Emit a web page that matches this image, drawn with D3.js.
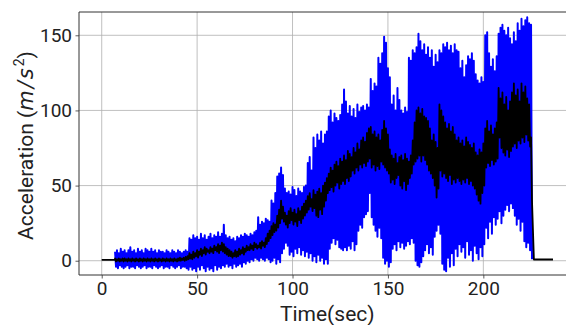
<!DOCTYPE html>
<html>
<head>
<meta charset="utf-8">
<script src="https://cdn.jsdelivr.net/npm/d3@7"></script>
<style>
  body { margin: 0; background: #fff; }
  svg { display: block; }
  .tick text { font-family: Roboto, "Noto Sans", sans-serif; }
</style>
</head>
<body>
<div id="chart"></div>
<script>
// one sample per second, starting at t = 7 s
var sampleTimes = d3.range(7, 226);

var blueHi = [
  6,7,5,8,6,7,5,7,9,6,
  7,5,8,6,7,5,8,7,6,8,
  6,7,5,7,6,6,5,7,6,5,
  7,6,5,7,6,5,6,7,6,15,
  14,17,15,16,14,18,15,17,14,16,
  18,15,17,16,19,16,18,24,17,15,
  16,14,15,13,16,15,17,16,18,17,
  16,18,17,19,20,29,24,26,25,28,
  27,26,40,38,45,56,58,62,57,48,
  45,46,44,49,47,43,48,46,45,49,
  50,65,69,60,82,75,84,80,86,78,
  84,86,96,100,92,98,95,93,97,104,
  114,106,98,103,96,101,95,104,99,102,
  103,100,104,102,121,113,118,116,135,131,
  138,149,145,128,122,104,110,100,115,107,
  100,98,102,99,135,133,140,138,142,151,
  146,140,144,137,142,135,140,129,137,132,
  140,138,144,142,145,140,143,138,144,140,
  139,128,133,122,130,136,134,138,133,124,
  120,118,122,119,150,152,138,129,134,126,
  136,151,155,157,153,150,155,148,144,152,
  146,158,153,161,156,160,162,158,157
];

var blueLo = [
  -4,-5,-3,-4,-5,-4,-3,-5,-4,-4,
  -5,-3,-4,-5,-4,-3,-5,-4,-4,-5,
  -3,-4,-5,-4,-3,-5,-4,-4,-5,-3,
  -4,-5,-4,-3,-5,-4,-4,-5,-6,-4,
  -6,-5,-7,-4,-6,-3,-5,-7,-4,-6,
  -5,-7,-3,-6,-4,-5,-3,-4,-2,-4,
  -3,-5,-2,-4,-3,-2,-4,-1,-2,0,
  -1,1,0,2,1,0,2,1,0,2,
  1,-1,0,2,-2,1,-1,5,8,12,
  10,4,6,3,8,5,9,4,7,3,
  6,2,5,0,3,-1,4,0,2,-2,
  1,-2,8,12,15,11,14,9,8,7,
  9,7,10,8,13,7,11,20,24,22,
  29,31,33,45,29,24,20,16,22,15,
  2,-2,0,-4,-1,8,11,7,13,9,
  12,8,10,13,11,15,12,0,-3,-4,
  -1,3,7,11,5,9,4,16,20,24,
  18,-2,-6,-7,2,-4,5,-3,8,3,
  11,6,9,2,13,4,7,0,10,5,
  1,9,3,11,22,15,26,18,29,24,
  28,33,25,30,34,37,33,38,35,30,
  24,28,20,26,13,9,12,7,1
];

var blackHi = [
  1.5,1,1.5,1,1.5,1.5,1,1.5,1,1.5,
  1,1.5,1,1.5,1,1.5,1,1.5,1,1.5,
  1,1.5,1,1.5,1,1.5,1,1.5,1,1.5,
  1,1.5,1,1.5,2,1.5,2,2.5,3,5,
  4,6,5,7,6,8,7,9,8,7,
  9,8,10,9,11,10,12,11,9,8,
  7,6,5,7,6,8,7,9,8,10,
  9,11,10,12,11,10,12,13,12,15,
  18,20,23,25,24,30,34,40,36,32,
  30,33,35,32,34,31,35,33,36,38,
  40,43,45,41,47,44,46,48,45,50,
  52,55,58,62,60,64,66,63,68,66,
  70,67,73,71,69,75,72,78,74,80,
  82,79,85,88,89,84,86,82,84,80,
  87,93,88,84,74,70,68,71,65,69,
  70,67,71,68,66,70,80,92,100,102,
  98,101,96,95,93,88,80,84,79,75,
  104,100,96,92,88,91,86,89,84,80,
  82,78,80,76,82,79,77,75,78,72,
  70,74,72,78,88,93,86,90,84,88,
  92,115,108,112,104,109,100,106,112,118,
  110,114,106,118,112,116,108,104,82
];

var blackLo = [
  -0.5,0,-0.5,0,-0.5,0,-0.5,0,-0.5,0,
  -0.5,0,-0.5,0,-0.5,0,-0.5,0,-0.5,0,
  -0.5,0,-0.5,0,-0.5,0,-0.5,0,-0.5,0,
  -0.5,0,-0.5,0,0,0.5,0,0.5,1,1.5,
  1,2,3,2,4,3,5,4,6,5,
  6,5,7,6,5,7,6,5,4,3,
  3,2,3,2.5,3,4,5,4,6,7,
  7,8,7,9,8,9,8,10,9,11,
  13,15,17,19,20,22,25,28,26,24,
  22,25,27,24,26,23,27,25,28,30,
  32,34,36,33,35,30,29,34,31,36,
  40,45,47,49,46,50,52,48,51,53,
  51,55,53,56,60,58,62,60,64,62,
  65,63,66,68,62,64,60,63,61,66,
  64,62,60,58,52,54,51,55,57,50,
  48,53,47,51,55,58,64,66,68,70,
  66,70,67,64,60,58,55,50,42,48,
  60,56,58,55,53,57,51,54,52,55,
  53,51,54,52,55,51,53,50,48,44,
  40,38,45,50,62,65,63,67,64,66,
  68,82,75,72,70,74,69,73,76,78,
  75,80,78,82,79,84,80,76,40
];

// flat parts of the black trace before and after the recording
var leadTimes = [0, 7];
var leadVals = [0.6, 0.6];
var tailTimes = [226.5, 236.5];
var tailVals = [0.8, 0.8];

var xTicks = [0, 50, 100, 150, 200];
var yTicks = [0, 50, 100, 150];

var margin = {top: 12, left: 79, bottom: 50};
var W = 566, H = 325;
var plotW = 496.5;               // right edge falls outside the window
var plotH = H - margin.top - margin.bottom;

var x = d3.scaleLinear().domain([-11.9, 248.3]).range([0, plotW]);
var y = d3.scaleLinear().domain([-9.5, 165.5]).range([plotH, 0]);

var svg = d3.select("#chart").append("svg")
  .attr("width", W)
  .attr("height", H);

var g = svg.append("g")
  .attr("transform", "translate(" + margin.left + "," + margin.top + ")");

g.append("defs").append("clipPath").attr("id", "clip")
  .append("rect").attr("width", plotW).attr("height", plotH);

// grid
g.append("g").selectAll("line").data(xTicks).join("line")
  .attr("x1", function(d) { return x(d); }).attr("x2", function(d) { return x(d); })
  .attr("y1", 0).attr("y2", plotH)
  .attr("stroke", "#b0b0b0").attr("stroke-width", 0.8);
g.append("g").selectAll("line").data(yTicks).join("line")
  .attr("y1", function(d) { return y(d); }).attr("y2", function(d) { return y(d); })
  .attr("x1", 0).attr("x2", plotW)
  .attr("stroke", "#b0b0b0").attr("stroke-width", 0.8);

// zigzag between the upper and lower peaks of each second
function zigzag(hi, lo) {
  var pts = [];
  sampleTimes.forEach(function(t, i) {
    pts.push([t, hi[i]]);
    pts.push([t + 0.5, lo[i]]);
  });
  return pts;
}

var line = d3.line()
  .x(function(d) { return x(d[0]); })
  .y(function(d) { return y(d[1]); });

var plot = g.append("g").attr("clip-path", "url(#clip)");

plot.append("path")
  .datum(zigzag(blueHi, blueLo))
  .attr("fill", "none")
  .attr("stroke", "#0000ff")
  .attr("stroke-width", 2)
  .attr("stroke-linejoin", "round")
  .attr("d", line);

var blackPts = leadTimes.map(function(t, i) { return [t, leadVals[i]]; })
  .concat(zigzag(blackHi, blackLo))
  .concat(tailTimes.map(function(t, i) { return [t, tailVals[i]]; }));

plot.append("path")
  .datum(blackPts)
  .attr("fill", "none")
  .attr("stroke", "#000")
  .attr("stroke-width", 1.8)
  .attr("stroke-linejoin", "round")
  .attr("d", line);

// axes
var xAxis = g.append("g")
  .attr("transform", "translate(0," + plotH + ")")
  .call(d3.axisBottom(x).tickValues(xTicks).tickSize(3.5).tickPadding(3.5).tickFormat(d3.format("d")));
var yAxis = g.append("g")
  .call(d3.axisLeft(y).tickValues(yTicks).tickSize(3.5).tickPadding(3.5).tickFormat(d3.format("d")));

[xAxis, yAxis].forEach(function(a) {
  a.select(".domain").remove();
  a.selectAll(".tick line").attr("stroke", "#333").attr("stroke-width", 0.8);
  a.selectAll(".tick text").attr("fill", "#222").style("font-size", "19px");
});

// spines (left, top, bottom)
g.append("path")
  .attr("d", "M" + plotW + ",0H0V" + plotH + "H" + plotW)
  .attr("fill", "none")
  .attr("stroke", "#333")
  .attr("stroke-width", 1);

// labels
svg.append("text")
  .attr("x", margin.left + plotW / 2)
  .attr("y", 320.5)
  .attr("text-anchor", "middle")
  .style("font-family", "Roboto, 'Noto Sans', sans-serif")
  .style("font-size", "21px")
  .attr("fill", "#222")
  .text("Time(sec)");

var yl = svg.append("text")
  .attr("transform", "translate(33," + (margin.top + plotH / 2 + 2) + ") rotate(-90)")
  .attr("text-anchor", "middle")
  .style("font-family", "Roboto, 'Noto Sans', sans-serif")
  .style("font-size", "21px")
  .attr("fill", "#222");
yl.append("tspan").text("Acceleration (");
yl.append("tspan").style("font-family", "'DejaVu Sans', sans-serif").style("font-style", "italic")
  .style("letter-spacing", "2px").text("m/s");
yl.append("tspan").attr("dy", -9).style("font-size", "14px").text("2");
yl.append("tspan").attr("dy", 9).text(")");
</script>
</body>
</html>
